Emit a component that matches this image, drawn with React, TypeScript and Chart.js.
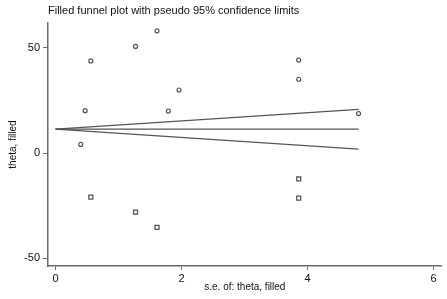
import React, { useEffect, useRef } from "react";
import { Chart, registerables } from "chart.js";

Chart.register(...registerables);

// Observed studies
const observedSe = [0.56, 0.47, 0.4, 1.27, 1.61, 1.96, 1.79, 3.86, 3.86, 4.81];
const observedTheta = [43.7, 20.1, 4.1, 50.6, 58.0, 29.9, 19.9, 44.1, 35.0, 18.7];
// Filled (imputed) studies
const filledSe = [0.56, 1.27, 1.61, 3.86, 3.86];
const filledTheta = [-20.9, -28.0, -35.3, -12.3, -21.4];
// Funnel (pooled estimate and pseudo 95% limits)
const funnelSe = [0, 4.81];
const pooledTheta = [11.3, 11.3];
const upperLimit = [11.3, 20.7];
const lowerLimit = [11.3, 1.9];
// Ticks
const xTicks = [0, 2, 4, 6];
const yTicks = [-50, 0, 50];

const TITLE = "Filled funnel plot with pseudo 95% confidence limits";
const FONT = "'Liberation Sans', Arial, sans-serif";
const GRAY = "#555";
const AXIS = "#6b6b6b";

const pts = (xs: number[], ys: number[]) => xs.map((x, i) => ({ x, y: ys[i] }));

export default function App() {
  const ref = useRef<HTMLCanvasElement | null>(null);
  useEffect(() => {
    document.body.style.margin = "0";
    const titlePlugin = {
      id: "stataTitle",
      afterDraw(chart: any) {
        const ctx = chart.ctx;
        ctx.save();
        ctx.fillStyle = "#111";
        ctx.font = `11px ${FONT}`;
        ctx.textBaseline = "middle";
        ctx.textAlign = "left";
        ctx.fillText(TITLE, chart.chartArea.left, 11);
        ctx.restore();
      },
    };
    const lineDs = (data: number[], label: string) => ({
      type: "line" as const,
      label,
      data: pts(funnelSe, data),
      borderColor: GRAY,
      borderWidth: 1.2,
      pointRadius: 0,
      fill: false,
      showLine: true,
    });
    const chart = new Chart(ref.current!, {
      type: "scatter",
      data: {
        datasets: [
          lineDs(pooledTheta, "pooled"),
          lineDs(upperLimit, "upper"),
          lineDs(lowerLimit, "lower"),
          {
            label: "observed",
            data: pts(observedSe, observedTheta),
            pointStyle: "circle",
            pointRadius: 2,
            borderWidth: 1.2,
            borderColor: GRAY,
            backgroundColor: "#fff",
          },
          {
            label: "filled",
            data: pts(filledSe, filledTheta),
            pointStyle: "rect",
            pointRadius: 2.8,
            borderWidth: 1.3,
            borderColor: GRAY,
            backgroundColor: "#fff",
          },
          {
            label: "filled-dot",
            data: pts(filledSe, filledTheta),
            pointStyle: "rect",
            pointRadius: 0.9,
            borderWidth: 0,
            backgroundColor: GRAY,
          },
        ] as any,
      },
      options: {
        animation: false,
        responsive: false,
        layout: { padding: { top: 23, right: 0, left: 0, bottom: 0 } },
        plugins: { legend: { display: false }, tooltip: { enabled: false }, title: { display: false } },
        scales: {
          x: {
            type: "linear",
            min: -0.12,
            max: 6.13,
            afterBuildTicks: (s: any) => {
              s.ticks = xTicks.map((v) => ({ value: v }));
            },
            afterFit: (s: any) => {
              s.height = 33;
            },
            border: { display: true, color: AXIS, width: 1.5 },
            grid: { drawOnChartArea: false, drawTicks: true, tickLength: 4, tickColor: AXIS },
            ticks: { color: "#111", font: { family: FONT, size: 11 }, padding: 2, maxRotation: 0 },
            title: { display: true, text: "s.e. of: theta, filled", color: "#111", font: { family: FONT, size: 10 }, padding: { top: 1, bottom: 6 } },
          },
          y: {
            type: "linear",
            min: -53.6,
            max: 61.7,
            afterBuildTicks: (s: any) => {
              s.ticks = yTicks.map((v) => ({ value: v }));
            },
            afterFit: (s: any) => {
              s.width = 48;
            },
            border: { display: true, color: AXIS, width: 1.5 },
            grid: { drawOnChartArea: false, drawTicks: true, tickLength: 5, tickColor: AXIS },
            ticks: { color: "#111", font: { family: FONT, size: 11 }, padding: 3 },
            title: { display: true, text: "theta, filled", color: "#111", font: { family: FONT, size: 10 }, padding: { top: 7, bottom: 5 } },
          },
        },
      } as any,
      plugins: [titlePlugin],
    });
    return () => chart.destroy();
  }, []);
  return (
    <div style={{ width: 447, height: 299, background: "#fff" }}>
      <canvas ref={ref} width={447} height={299} style={{ display: "block" }} />
    </div>
  );
}
